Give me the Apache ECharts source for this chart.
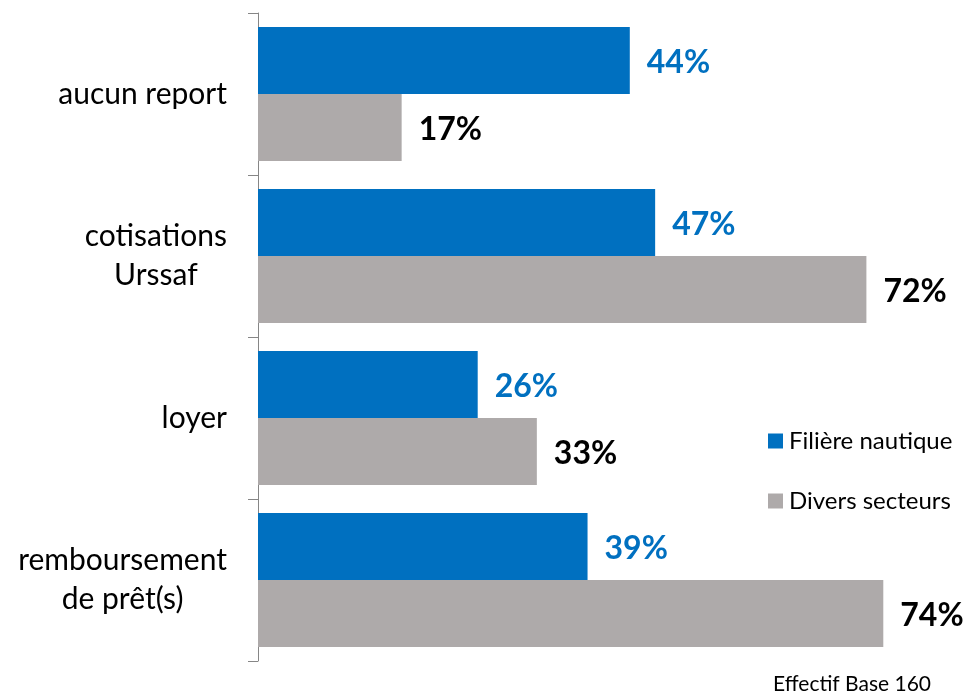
<!DOCTYPE html>
<html>
<head>
<meta charset="utf-8">
<script src="https://cdn.jsdelivr.net/npm/echarts@6/dist/echarts.min.js"></script>
<style>
  html, body { margin: 0; padding: 0; background: #fff; }
  #chart { width: 970px; height: 700px; }
</style>
</head>
<body>
<div id="chart"></div>
<script>
// Categories, top to bottom
const categories = ['aucun report', 'cotisations\nUrssaf', 'loyer', 'remboursement\nde prêt(s)'];
// Shares in percent
const filiereNautique = [44, 47, 26, 39];
const diversSecteurs = [17, 72, 33, 74];
const seriesNames = ['Filière nautique', 'Divers secteurs'];
const footnote = 'Effectif Base 160';

const FONT = 'Lato, "Open Sans", sans-serif';
const BLUE = '#0070C0';
const GREY = '#AEAAAA';

const chart = echarts.init(document.getElementById('chart'));

function barLabel(color) {
  return {
    show: true,
    position: 'right',
    distance: 17,
    offset: [0, 2],
    formatter: p => p.value + '%',
    color: color,
    fontFamily: FONT,
    fontWeight: 'bold',
    fontSize: 32
  };
}

chart.setOption({
  animation: false,
  textStyle: { fontFamily: FONT },
  grid: { left: 258, top: 13, width: 676, height: 648, containLabel: false },
  legend: {
    orient: 'vertical',
    left: 763,
    top: 424,
    itemWidth: 15,
    itemHeight: 15,
    itemGap: 36,
    icon: 'rect',
    textStyle: { fontFamily: FONT, fontSize: 24, color: '#000', padding: [0, 0, 0, 1] },
    data: seriesNames
  },
  xAxis: {
    type: 'value',
    min: 0,
    max: 80,
    show: false
  },
  yAxis: {
    type: 'category',
    inverse: true,
    data: categories,
    axisLine: { show: true, lineStyle: { color: '#868686', width: 1 } },
    axisTick: { show: true, length: 10, lineStyle: { color: '#868686' } },
    axisLabel: {
      margin: 31,
      fontFamily: FONT,
      fontSize: 30,
      color: '#000',
      lineHeight: 39,
      formatter: v => v.split('\n').map(l => '{c|' + l + '}').join('\n'),
      rich: { c: { align: 'center', fontFamily: FONT, fontSize: 30, lineHeight: 39, color: '#000' } }
    }
  },
  series: [
    {
      name: seriesNames[0],
      type: 'bar',
      data: filiereNautique,
      barWidth: 67,
      barGap: '0%',
      itemStyle: { color: BLUE },
      label: barLabel(BLUE)
    },
    {
      name: seriesNames[1],
      type: 'bar',
      data: diversSecteurs,
      barWidth: 67,
      barGap: '0%',
      itemStyle: { color: GREY },
      label: barLabel('#000')
    }
  ],
  graphic: [
    {
      type: 'text',
      left: 773,
      top: 674,
      style: { text: footnote, fontFamily: FONT, fontSize: 21, fill: '#000' }
    }
  ]
});
</script>
</body>
</html>
